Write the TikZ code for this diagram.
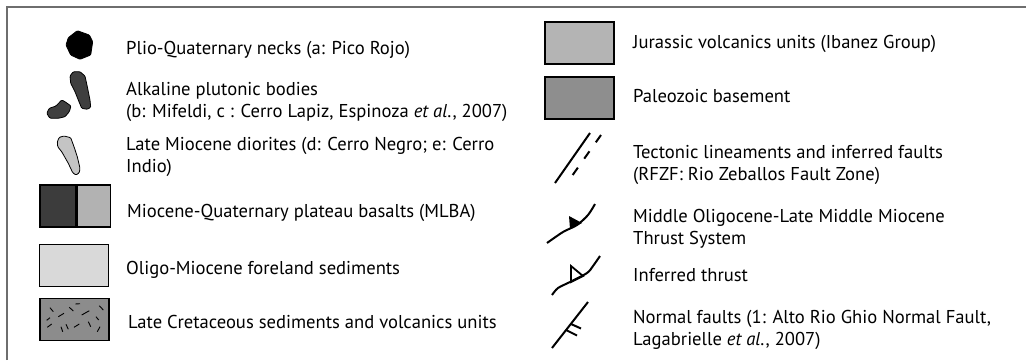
\documentclass[tikz,border=0pt]{standalone}
\usepackage{fontspec}
\setmainfont{PT Sans}
\usetikzlibrary{positioning}
\definecolor{lgFrame}{HTML}{6E6E6E}
\definecolor{lgPluton}{HTML}{3F3F3F}
\definecolor{lgDiorite}{HTML}{C4C4C4}
\definecolor{lgBasaltA}{HTML}{3C3C3C}
\definecolor{lgBasaltB}{HTML}{B2B2B2}
\definecolor{lgForeland}{HTML}{D9D9D9}
\definecolor{lgCretac}{HTML}{8C8C8C}
\definecolor{lgJurassic}{HTML}{B4B4B4}
\definecolor{lgPaleozoic}{HTML}{8E8E8E}
\tikzset{
  frameline/.style = {lgFrame, line width=2pt},
  unitbox/.style   = {draw=black, line width=1.3pt, minimum width=69pt,
                      minimum height=42pt, inner sep=0pt},
  blob/.style      = {draw=black, line width=0.8pt, rounded corners=1pt},
  faultline/.style = {black, line width=2pt},
  ticks/.style     = {black, line width=0.9pt},
  lbl/.style       = {font=\fontsize{18.6}{22}\selectfont, anchor=base west,
                      align=left, inner sep=0pt},
}
\begin{document}
\begin{tikzpicture}[x=1pt, y=-1pt]
  \useasboundingbox (0,0) rectangle (1026,360);
  \draw[frameline] (7,360) |- (1026,7);

  % igneous bodies
  \draw[blob, fill=black] (68.3,37.7) -- (77.3,30.7) -- (89.3,35) -- (92.7,41.7)
    -- (90.7,55) -- (80,59.3) -- (70.7,55) -- (66,45) -- cycle;
  \draw[blob, fill=lgPluton] (70,76) -- (73.3,71.7) -- (80,71.7) -- (85,76)
    -- (87.3,86.7) -- (90,100) -- (90.7,107.3) -- (87.3,109.3) -- (81.7,108.3)
    -- (78.3,100) -- (75,91.7) -- (70.7,83.3) -- cycle;
  \draw[blob, fill=lgPluton] (46.7,113.3) -- (49.3,108.3) -- (56,106) -- (61.7,100)
    -- (65,101.7) -- (71,106) -- (69.3,111.7) -- (65,116.7) -- (58.3,118.3)
    -- (50,118.3) -- cycle;
  \draw[blob, fill=lgDiorite] (57.3,141.7) -- (59.3,137.3) -- (64,136) -- (70.7,137.7)
    -- (74,146.7) -- (77.3,156.7) -- (80,168.3) -- (79.3,172.7) -- (76,175)
    -- (72.7,172.7) -- (68.3,163.3) -- (61.7,151.7) -- (57.7,146.7) -- cycle;

  % unit boxes
  \node[unitbox, fill=lgBasaltA, minimum width=36pt] (mlbaL) at (58,206) {};
  \node[unitbox, fill=lgBasaltB, minimum width=33pt, anchor=west] (mlbaR) at (mlbaL.east) {};
  \node[unitbox, fill=lgForeland] (foreland) at (74,265.5) {};
  \node[unitbox, fill=lgCretac] (cretac) at (74.5,319.5) {};
  \foreach \xa/\ya/\xb/\yb in {50/307.7/53.3/311.7, 58.3/316.7/64/313.3,
      69.3/307.3/73.3/311, 75.3/304/80/303.7, 81.7/315/89.3/310.7,
      99.3/305.7/103.3/310, 46.7/320.3/50/317.7, 47.3/327.3/51.7/324,
      61/326.7/62.7/331.7, 66/324.3/68.3/329.3, 74/327.3/79.3/324,
      88.3/321.7/90.7/326.7, 96/316.7/98.7/320, 97.3/331.7/100/326.7}
    \draw[ticks] (\xa,\ya) -- (\xb,\yb);
  \node[unitbox, fill=lgJurassic] (jurassic) at (579.5,43) {};
  \node[unitbox, fill=lgPaleozoic] (paleozoic) at (579.5,98) {};

  % structural symbols
  \draw[faultline] (555,183) -- (590,133);
  \draw[faultline, dash pattern=on 9pt off 11pt] (601,135) -- (567,183);
  \draw[faultline] plot[smooth] coordinates {(547,243) (563,232) (577,225) (588,215) (595,204)};
  \fill (569,216) -- (570,229) -- (582,223) -- cycle;
  \draw[faultline] plot[smooth] coordinates {(552,295) (558,288) (570,282) (587,273) (593,266) (600,256)};
  \draw[black, line width=1.8pt, line join=miter] (571,266) -- (571,282) -- (583,276) -- cycle;
  \draw[faultline] (552,348) -- (588,302);
  \draw[faultline] (571,324) -- (581,328.5);
  \draw[faultline] (566,330) -- (577,335.5);

  % labels (base = last line)
  \node[lbl] (neckT) at (126,54) {Plio-Quaternary necks (a: Pico Rojo)};
  \node[lbl] (plutonT) at (126,117) {Alkaline plutonic bodies\\(b: Mifeldi, c : Cerro Lapiz, Espinoza \textit{et al}., 2007)};
  \node[lbl] (dioriteT) at (126,172) {Late Miocene diorites (d: Cerro Negro; e: Cerro\\Indio)};
  \node[lbl] (mlbaT) at (127,217.3) {Miocene-Quaternary plateau basalts (MLBA)};
  \node[lbl] (forelandT) at (126,274.3) {Oligo-Miocene foreland sediments};
  \node[lbl] (cretacT) at (128,328.3) {Late Cretaceous sediments and volcanics units};
  \node[lbl] (jurassicT) at (633,48.3) {Jurassic volcanics units (Ibanez Group)};
  \node[lbl] (paleozoicT) at (633,102.7) {Paleozoic basement};
  \node[lbl] (lineamentT) at (633,180.3) {Tectonic lineaments and inferred faults\\(RFZF: Rio Zeballos Fault Zone)};
  \node[lbl] (thrustT) at (633,244.7) {Middle Oligocene-Late Middle Miocene\\Thrust System};
  \node[lbl] (inferredT) at (633,281) {Inferred thrust};
  \node[lbl] (normalT) at (633,345.3) {Normal faults (1: Alto Rio Ghio Normal Fault,\\Lagabrielle \textit{et al}., 2007)};
\end{tikzpicture}
\end{document}
